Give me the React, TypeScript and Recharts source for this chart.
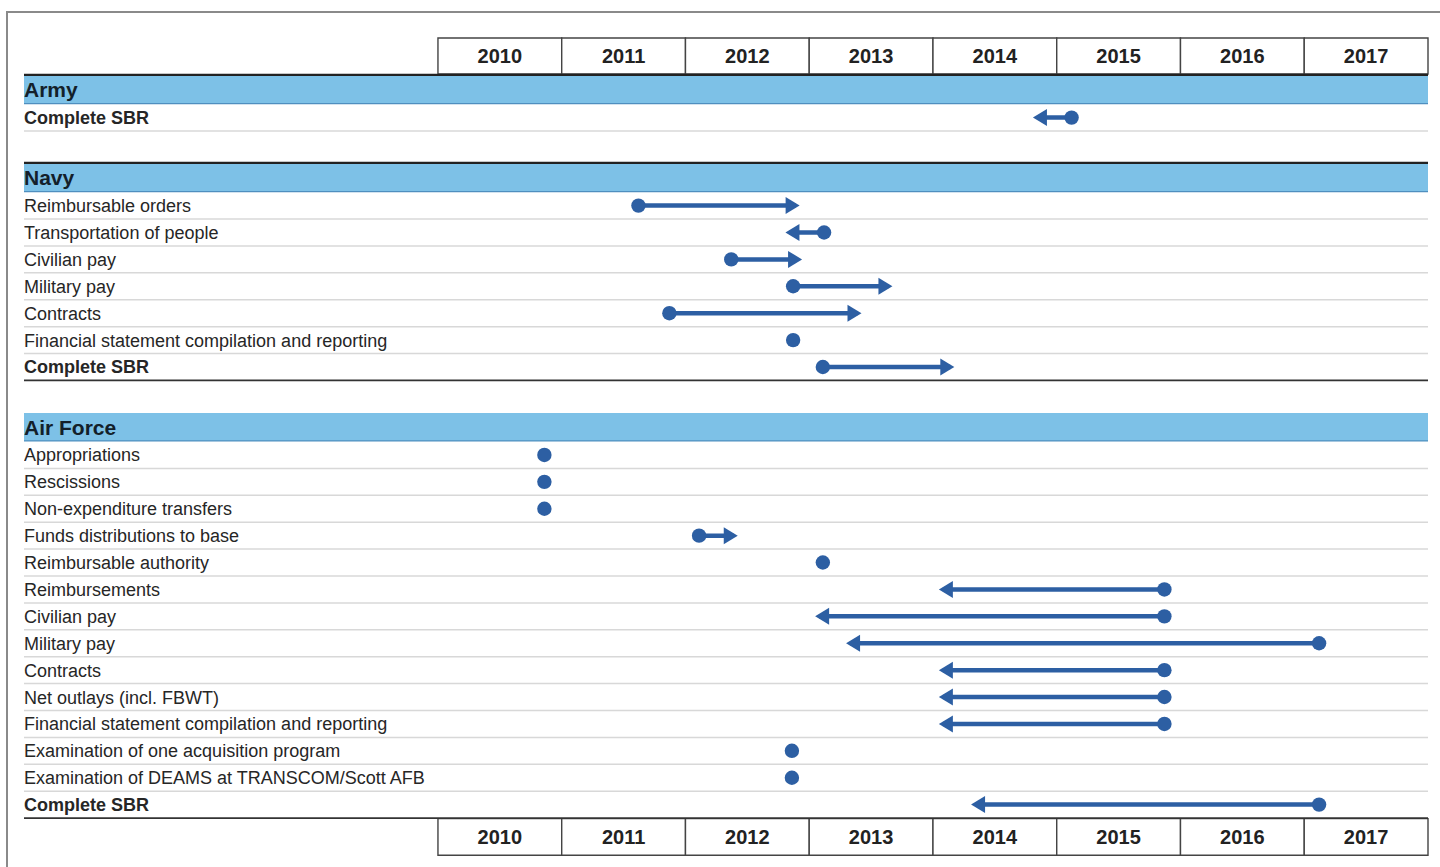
import { ComposedChart, Line, XAxis, YAxis, ReferenceArea, ReferenceLine } from 'recharts'

const YEARS = [2010, 2011, 2012, 2013, 2014, 2015, 2016, 2017]

const SECTIONS = ['Army', 'Navy', 'Air Force']

const ARMY_TASKS = ['Complete SBR']
const ARMY_DOTS = [2015.12]
const ARMY_ARROWS: (number | null)[] = [2014.84]

const NAVY_TASKS = [
  'Reimbursable orders',
  'Transportation of people',
  'Civilian pay',
  'Military pay',
  'Contracts',
  'Financial statement compilation and reporting',
  'Complete SBR',
]
const NAVY_DOTS = [2011.62, 2013.12, 2012.37, 2012.87, 2011.87, 2012.87, 2013.11]
const NAVY_ARROWS: (number | null)[] = [2012.89, 2012.84, 2012.91, 2013.64, 2013.39, null, 2014.14]

const AF_TASKS = [
  'Appropriations',
  'Rescissions',
  'Non-expenditure transfers',
  'Funds distributions to base',
  'Reimbursable authority',
  'Reimbursements',
  'Civilian pay',
  'Military pay',
  'Contracts',
  'Net outlays (incl. FBWT)',
  'Financial statement compilation and reporting',
  'Examination of one acquisition program',
  'Examination of DEAMS at TRANSCOM/Scott AFB',
  'Complete SBR',
]
const AF_DOTS = [
  2010.86, 2010.86, 2010.86, 2012.11, 2013.11, 2015.87, 2015.87,
  2017.12, 2015.87, 2015.87, 2015.87, 2012.86, 2012.86, 2017.12,
]
const AF_ARROWS: (number | null)[] = [
  null, null, null, 2012.39, null, 2014.08, 2013.08,
  2013.33, 2014.08, 2014.08, 2014.08, null, null, 2014.34,
]

// which sections get a dark rule above the band / below the last row
const TOP_RULE = [true, true, false]
const BOTTOM_RULE = [false, true, true]

const BLUE = '#2d5fa3'
const BAND = '#7dc1e7'
const FONT = '"Liberation Sans", Arial, Helvetica, sans-serif'

// layout in row units
const SECTION_GAP = 2.23
const HEADER_GAP = 1.04
const HALF_BAND = 0.52
const BOX_H = 1.36
const LABEL_SPAN = 3.345

type Row = {
  pos: number
  label: string
  header: boolean
  dot?: number
  arrow?: number | null
  section: number
  last?: boolean
}

const groups = [
  { tasks: ARMY_TASKS, dots: ARMY_DOTS, arrows: ARMY_ARROWS },
  { tasks: NAVY_TASKS, dots: NAVY_DOTS, arrows: NAVY_ARROWS },
  { tasks: AF_TASKS, dots: AF_DOTS, arrows: AF_ARROWS },
]

const rows: Row[] = []
let cursor = 0
groups.forEach((g, gi) => {
  if (gi > 0) cursor += SECTION_GAP
  rows.push({ pos: cursor, label: SECTIONS[gi], header: true, section: gi })
  g.tasks.forEach((t, i) => {
    cursor += i === 0 ? HEADER_GAP : 1
    rows.push({
      pos: cursor,
      label: t,
      header: false,
      dot: g.dots[i],
      arrow: g.arrows[i],
      section: gi,
      last: i === g.tasks.length - 1,
    })
  })
})

const lastPos = cursor
const Y_MIN = -HALF_BAND - 0.04 - BOX_H
const Y_MAX = lastPos + 0.5 + BOX_H + 0.05
const X_MIN = YEARS[0] - LABEL_SPAN
const X_MAX = YEARS[YEARS.length - 1] + 1

const headers = rows.filter(r => r.header)
const tasks = rows.filter(r => !r.header)

// one invisible point per row at the left edge, used to place the row labels
const labelPoints = rows.map(r => ({ x: X_MIN, y: r.pos, label: r.label, header: r.header }))

function rowLabel(p: any) {
  const { cx, cy, payload, index } = p
  if (cx == null || cy == null) return <g key={`l-${index}`} />
  const bold = payload.header || payload.label === 'Complete SBR'
  return (
    <text
      key={`l-${index}`}
      x={cx}
      y={cy}
      dy="0.36em"
      textAnchor="start"
      fontFamily={FONT}
      fontSize={payload.header ? 21 : 18}
      fontWeight={bold ? 700 : 400}
      fill={payload.header ? '#13202a' : '#262626'}
    >
      {payload.label}
    </text>
  )
}

function mark(p: any, dir: number) {
  const { cx, cy, index } = p
  if (cx == null || cy == null) return <g key={`m-${index}`} />
  if (index === 0) return <circle key={`m-${index}`} cx={cx} cy={cy} r={7.2} fill={BLUE} />
  const tip = cx + dir * 4
  const base = cx - dir * 10
  return (
    <polygon
      key={`m-${index}`}
      points={`${tip},${cy} ${base},${cy - 8.5} ${base},${cy + 8.5}`}
      fill={BLUE}
    />
  )
}

const yearLabel = { position: 'center', fontSize: 20, fontWeight: 700, fill: '#222', fontFamily: FONT } as const

export default function App() {
  return (
    <div
      style={{
        position: 'absolute',
        left: 6,
        top: 11,
        width: 1434,
        height: 856,
        borderTop: '2px solid #8a8a8a',
        borderLeft: '2px solid #8a8a8a',
        background: '#fff',
      }}
    >
      <ComposedChart
        width={1432}
        height={854}
        margin={{ top: 25, right: 12, bottom: 11, left: 16 }}
      >
        <XAxis type="number" dataKey="x" domain={[X_MIN, X_MAX]} allowDataOverflow hide />
        <YAxis type="number" dataKey="y" domain={[Y_MIN, Y_MAX]} allowDataOverflow reversed hide />

        {headers.map(h => (
          <ReferenceArea
            key={`band-${h.label}`}
            x1={X_MIN}
            x2={X_MAX}
            y1={h.pos - HALF_BAND}
            y2={h.pos + HALF_BAND}
            fill={BAND}
            fillOpacity={1}
            stroke="none"
          />
        ))}
        {headers.map(h => (
          <ReferenceLine key={`bandline-${h.label}`} y={h.pos + HALF_BAND} stroke="#4f8fbf" strokeWidth={1.2} />
        ))}

        {tasks.filter(r => !(r.last && BOTTOM_RULE[r.section])).map(r => (
          <ReferenceLine key={`sep-${r.pos}`} y={r.pos + 0.5} stroke="#d8d8d8" strokeWidth={1.5} />
        ))}

        {headers.filter(h => TOP_RULE[h.section]).map(h => (
          <ReferenceLine key={`top-${h.label}`} y={h.pos - HALF_BAND - 0.03} stroke="#222" strokeWidth={2.2} />
        ))}
        {tasks.filter(r => r.last && BOTTOM_RULE[r.section]).map(r => (
          <ReferenceLine key={`bot-${r.pos}`} y={r.pos + 0.5} stroke="#333" strokeWidth={1.8} />
        ))}

        {YEARS.map(yr => (
          <ReferenceArea
            key={`top-${yr}`}
            x1={yr}
            x2={yr + 1}
            y1={Y_MIN}
            y2={-HALF_BAND - 0.06}
            fill="#fff"
            fillOpacity={1}
            stroke="#444"
            strokeWidth={1.4}
            label={{ value: String(yr), ...yearLabel }}
          />
        ))}
        {YEARS.map(yr => (
          <ReferenceArea
            key={`bottom-${yr}`}
            x1={yr}
            x2={yr + 1}
            y1={lastPos + 0.52}
            y2={Y_MAX - 0.03}
            fill="#fff"
            fillOpacity={1}
            stroke="#444"
            strokeWidth={1.4}
            label={{ value: String(yr), ...yearLabel }}
          />
        ))}

        <Line
          data={labelPoints}
          dataKey="y"
          stroke="none"
          dot={rowLabel}
          activeDot={false}
          isAnimationActive={false}
          legendType="none"
        />

        {tasks.map(r => {
          const pts = r.arrow == null
            ? [{ x: r.dot, y: r.pos }]
            : [{ x: r.dot, y: r.pos }, { x: r.arrow, y: r.pos }]
          const dir = r.arrow == null ? 0 : Math.sign(r.arrow - (r.dot as number))
          return (
            <Line
              key={`task-${r.pos}`}
              data={pts}
              dataKey="y"
              stroke={BLUE}
              strokeWidth={4.5}
              dot={(p: any) => mark(p, dir)}
              activeDot={false}
              isAnimationActive={false}
              legendType="none"
            />
          )
        })}
      </ComposedChart>
    </div>
  )
}
